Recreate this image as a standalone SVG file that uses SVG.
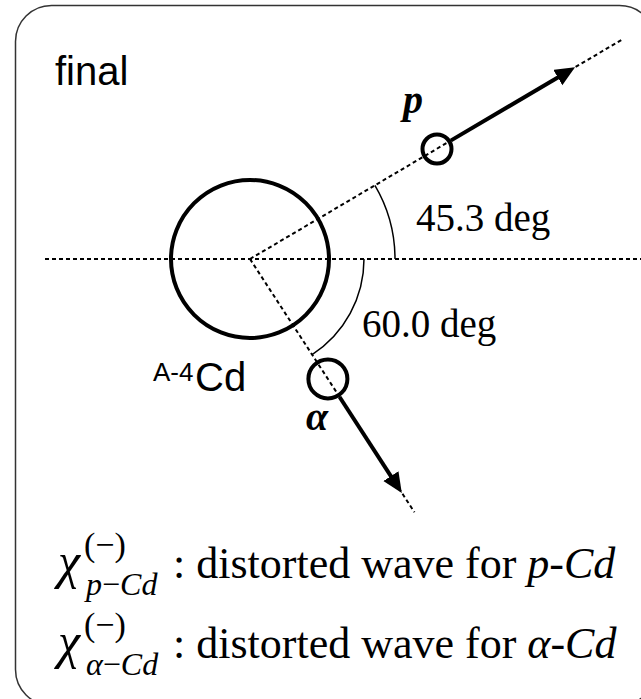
<svg xmlns="http://www.w3.org/2000/svg" width="641" height="699" viewBox="0 0 641 699">
  <style>
    .sans { font-family: "Liberation Sans", Arial, sans-serif; fill: #000; }
    .serif { font-family: "Liberation Serif", "Times New Roman", serif; fill: #000; }
    .it { font-style: italic; }
    .bi { font-style: italic; font-weight: bold; }
    .dot { fill: none; stroke: #000; stroke-width: 2; stroke-dasharray: 4 3; }
    .thick { fill: none; stroke: #000; stroke-width: 4; }
    .arc { fill: none; stroke: #000; stroke-width: 1.5; }
  </style>
  <defs>
    <marker id="ah" markerUnits="userSpaceOnUse" markerWidth="22" markerHeight="20" refX="2" refY="9" orient="auto">
      <path d="M0,0 L20,9 L0,18 z" fill="#000"/>
    </marker>
  </defs>

  <rect id="frame" x="15.5" y="5.5" width="640" height="700" rx="36" ry="36" fill="#fff" stroke="#333" stroke-width="1.5"/>

  <g id="title">
    <text class="sans" x="55" y="85" font-size="40">final</text>
  </g>

  <g id="connectors">
    <line class="dot" x1="45" y1="259" x2="641" y2="259"/>
    <line class="dot" x1="250" y1="259" x2="623" y2="39"/>
    <line class="dot" x1="250" y1="259" x2="414.5" y2="512.3"/>
    <path class="arc" d="M395,259 A145,145 0 0 0 374.9,185.3"/>
    <path class="arc" d="M364,259 A114,114 0 0 1 312.1,354.6"/>
    <line class="thick" x1="451.1" y1="140.4" x2="559.5" y2="76.5" marker-end="url(#ah)"/>
    <line class="thick" x1="339.6" y1="397" x2="392" y2="477.8" marker-end="url(#ah)"/>
  </g>

  <g id="nucleus">
    <circle class="thick" cx="250" cy="259" r="79"/>
    <text class="sans" x="153" y="381" font-size="26">A-4</text>
    <text class="sans" x="195" y="391" font-size="40">Cd</text>
  </g>

  <g id="proton">
    <circle class="thick" cx="437" cy="149" r="14.5"/>
    <text class="serif bi" x="403" y="113" font-size="40">p</text>
  </g>

  <g id="alpha">
    <circle class="thick" cx="327.9" cy="378.9" r="19.5"/>
    <text class="serif bi" x="306" y="430" font-size="40">α</text>
  </g>

  <g id="angles">
    <text class="serif" x="416" y="231" font-size="39">45.3 deg</text>
    <text class="serif" x="362" y="337" font-size="39">60.0 deg</text>
  </g>

  <g id="legend">
    <text class="serif it" x="58" y="578" font-size="50">χ</text>
    <text class="serif" x="84" y="556" font-size="34">(−)</text>
    <text class="serif" x="86" y="595" font-size="32"><tspan class="it">p</tspan>−<tspan class="it">Cd</tspan></text>
    <text class="serif" x="173" y="578" font-size="44">: distorted wave for <tspan class="it">p-Cd</tspan></text>

    <text class="serif it" x="58" y="658" font-size="50">χ</text>
    <text class="serif" x="84" y="636" font-size="34">(−)</text>
    <text class="serif" x="86" y="675" font-size="32"><tspan class="it">α</tspan>−<tspan class="it">Cd</tspan></text>
    <text class="serif" x="173" y="658" font-size="44">: distorted wave for <tspan class="it">α-Cd</tspan></text>
  </g>
</svg>
